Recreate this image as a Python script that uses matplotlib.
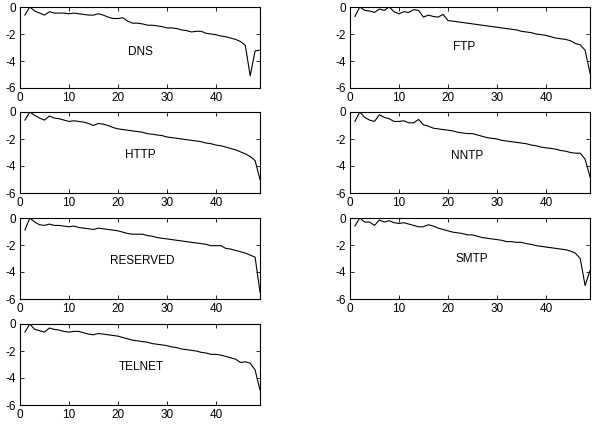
import numpy as np
import matplotlib
matplotlib.use("Agg")
import matplotlib.pyplot as plt

plt.rcParams["font.family"] = ["Liberation Sans", "DejaVu Sans"]
plt.rcParams["axes.unicode_minus"] = False

x = np.arange(1, 50)

dns = [-0.6, 0, -0.3, -0.45, -0.6, -0.35, -0.45, -0.45, -0.45, -0.5,
       -0.45, -0.5, -0.55, -0.6, -0.6, -0.5, -0.6, -0.75, -0.85, -0.85,
       -0.8, -1.05, -1.2, -1.2, -1.25, -1.35, -1.35, -1.4, -1.45, -1.55,
       -1.55, -1.6, -1.7, -1.75, -1.85, -1.8, -1.8, -1.95, -2.0, -2.05,
       -2.15, -2.2, -2.3, -2.4, -2.55, -2.85, -5.1, -3.25, -3.2]
ftp = [-0.7, 0, -0.25, -0.3, -0.4, -0.15, -0.25, 0.0, -0.35, -0.5,
       -0.35, -0.4, -0.2, -0.25, -0.75, -0.6, -0.7, -0.75, -0.55, -1.0,
       -1.05, -1.1, -1.15, -1.2, -1.25, -1.3, -1.35, -1.4, -1.45, -1.5,
       -1.55, -1.6, -1.65, -1.7, -1.8, -1.85, -1.9, -2.0, -2.05, -2.1,
       -2.2, -2.3, -2.35, -2.4, -2.5, -2.7, -2.8, -3.2, -4.9]
http = [-0.6, 0, -0.25, -0.45, -0.6, -0.3, -0.45, -0.5, -0.6, -0.7,
        -0.65, -0.7, -0.75, -0.85, -1.0, -0.85, -0.9, -1.0, -1.15, -1.25,
        -1.3, -1.35, -1.4, -1.45, -1.5, -1.6, -1.65, -1.7, -1.75, -1.85,
        -1.9, -1.95, -2.0, -2.05, -2.1, -2.15, -2.2, -2.3, -2.35, -2.45,
        -2.5, -2.6, -2.7, -2.8, -2.95, -3.1, -3.3, -3.6, -5.0]
nntp = [-0.7, 0, -0.4, -0.6, -0.7, -0.2, -0.4, -0.5, -0.7, -0.7,
        -0.65, -0.8, -0.8, -0.55, -0.95, -1.05, -1.2, -1.25, -1.3, -1.35,
        -1.4, -1.5, -1.55, -1.6, -1.6, -1.7, -1.8, -1.9, -1.95, -2.0,
        -2.1, -2.15, -2.2, -2.25, -2.3, -2.35, -2.45, -2.5, -2.6, -2.65,
        -2.7, -2.75, -2.85, -2.9, -3.0, -3.05, -3.05, -3.5, -4.8]
reserved = [-0.9, 0, -0.3, -0.5, -0.55, -0.45, -0.55, -0.55, -0.6, -0.65,
            -0.6, -0.7, -0.75, -0.8, -0.85, -0.75, -0.8, -0.85, -0.9, -0.95,
            -1.05, -1.15, -1.2, -1.2, -1.2, -1.3, -1.35, -1.45, -1.5, -1.55,
            -1.6, -1.65, -1.7, -1.75, -1.8, -1.85, -1.9, -1.95, -2.05, -2.05,
            -2.05, -2.25, -2.3, -2.4, -2.5, -2.6, -2.75, -2.9, -5.5]
smtp = [-0.6, 0, -0.3, -0.3, -0.55, -0.15, -0.3, -0.2, -0.35, -0.4,
        -0.35, -0.45, -0.55, -0.65, -0.65, -0.5, -0.6, -0.75, -0.85, -0.95,
        -1.05, -1.1, -1.15, -1.25, -1.25, -1.35, -1.45, -1.5, -1.55, -1.6,
        -1.65, -1.75, -1.75, -1.8, -1.8, -1.9, -1.95, -2.05, -2.1, -2.15,
        -2.2, -2.25, -2.3, -2.35, -2.45, -2.6, -3.0, -5.0, -3.9]
telnet = [-0.6, 0, -0.4, -0.5, -0.6, -0.3, -0.4, -0.45, -0.55, -0.6,
          -0.55, -0.55, -0.65, -0.75, -0.8, -0.7, -0.75, -0.8, -0.85, -0.9,
          -1.0, -1.1, -1.2, -1.25, -1.3, -1.35, -1.45, -1.5, -1.55, -1.6,
          -1.7, -1.75, -1.85, -1.9, -1.95, -2.0, -2.1, -2.15, -2.25, -2.25,
          -2.3, -2.4, -2.5, -2.6, -2.85, -2.8, -2.9, -3.4, -4.9]

names = ["DNS", "FTP", "HTTP", "NNTP", "RESERVED", "SMTP", "TELNET"]
series = [dns, ftp, http, nntp, reserved, smtp, telnet]
label_pos = [(24.5, -3.3), (23.3, -3.0), (24.5, -3.2), (24.0, -3.25),
             (25.0, -3.2), (24.8, -3.0), (24.8, -3.15)]

W, H = 598, 428
fig = plt.figure(figsize=(W / 100, H / 100), dpi=100)

col_left = [20, 350]
row_top = [7, 112, 218, 324]
aw, ah = 240, 81

for i, (name, y) in enumerate(zip(names, series)):
    r, c = divmod(i, 2)
    ax = fig.add_axes([col_left[c] / W, 1 - (row_top[r] + ah) / H, aw / W, ah / H])
    ax.plot(x, y, color="black", lw=0.8)
    ax.set_xlim(0, 49)
    ax.set_ylim(-6, 0)
    ax.set_xticks([0, 10, 20, 30, 40])
    ax.set_yticks([-6, -4, -2, 0])
    ax.tick_params(direction="in", top=True, right=True, length=3,
                   labelsize=8.5, pad=3, width=0.6)
    for s in ax.spines.values():
        s.set_linewidth(0.8)
    ax.text(label_pos[i][0], label_pos[i][1], name, ha="center", va="center",
            fontsize=8.5)

fig.savefig("out.png", dpi=100)
